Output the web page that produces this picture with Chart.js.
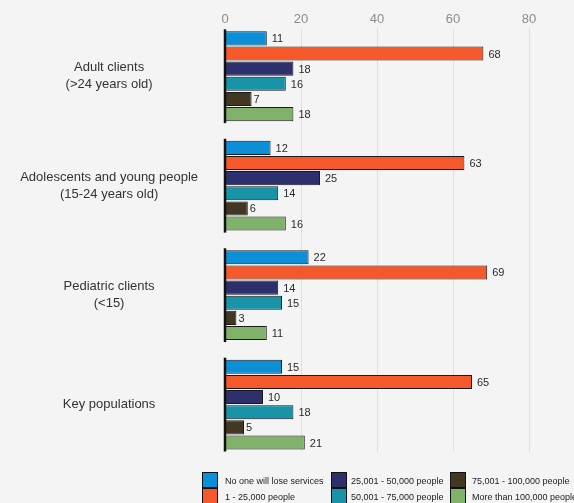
<!DOCTYPE html>
<html>
<head>
<meta charset="utf-8">
<script src="https://cdn.jsdelivr.net/npm/chart.js@4/dist/chart.umd.min.js"></script>
<style>
  html, body { margin: 0; padding: 0; background: #f4f4f4; overflow: hidden; }
  body { width: 574px; height: 503px; position: relative; font-family: "Liberation Sans", Arial, sans-serif; }
  #wrap { position: absolute; left: 0; top: 0; width: 574px; height: 462px; }
  #legend { position: absolute; left: 0; top: 0; width: 574px; height: 503px; pointer-events: none; }
  .item { position: absolute; height: 15px; display: flex; align-items: center; white-space: nowrap; font-size: 9px; color: #222; }
  .box { position: absolute; width: 14px; height: 14px; border: 1px solid #111; box-sizing: content-box; }
</style>
</head>
<body>
<div id="wrap"><canvas id="c"></canvas></div>
<div id="legend"></div>
<script>
// Population groups (y categories)
const groups = [
  ['Adult clients', '(>24 years old)'],
  ['Adolescents and young people', '(15-24 years old)'],
  ['Pediatric clients', '(<15)'],
  'Key populations'
];

// Number of people who would lose services, share of responses (%)
const seriesNames = [
  'No one will lose services',
  '1 - 25,000 people',
  '25,001 - 50,000 people',
  '50,001 - 75,000 people',
  '75,001 - 100,000 people',
  'More than 100,000 people'
];
const noOne      = [11, 12, 22, 15];
const upTo25k    = [68, 63, 69, 65];
const upTo50k    = [18, 25, 14, 10];
const upTo75k    = [16, 14, 15, 18];
const upTo100k   = [7, 6, 3, 5];
const over100k   = [18, 16, 11, 21];

const xTicks = [0, 20, 40, 60, 80];

const colors = ['#0d8fd8', '#f5582a', '#2e306e', '#1993a8', '#413723', '#80b26b'];
const seriesValues = [noOne, upTo25k, upTo50k, upTo75k, upTo100k, over100k];

// Trim of the half-category margins at the top and bottom of the y axis
const TOP_TRIM = 0.074;
const BOTTOM_TRIM = 0.040;

const datasets = seriesValues.map((vals, i) => ({
  label: seriesNames[i],
  data: vals,
  backgroundColor: colors[i],
  borderColor: '#1a1a1a',
  borderWidth: 1,
  borderSkipped: false,
  barPercentage: 0.93,
  categoryPercentage: 0.83
}));

// Extent of the bars: top of the first group to bottom of the last
function barsExtent(chart) {
  const first = chart.getDatasetMeta(0).data;
  const last = chart.getDatasetMeta(chart.data.datasets.length - 1).data;
  const top = first[0].y - first[0].height / 2;
  const lb = last[last.length - 1];
  return { top, bottom: lb.y + lb.height / 2, first, last };
}

// Vertical grid lines, spanning only the bar region
const gridLines = {
  id: 'gridLines',
  beforeDatasetsDraw(chart) {
    const ctx = chart.ctx;
    const xs = chart.scales.x;
    const ext = barsExtent(chart);
    ctx.save();
    ctx.strokeStyle = '#dedede';
    ctx.lineWidth = 1;
    xTicks.forEach(v => {
      if (v === 0) return;
      const x = Math.round(xs.getPixelForValue(v)) + 0.5;
      ctx.beginPath();
      ctx.moveTo(x, ext.top - 3);
      ctx.lineTo(x, ext.bottom + 2);
      ctx.stroke();
    });
    ctx.restore();
  }
};

// Value labels at the end of each bar
const valueLabels = {
  id: 'valueLabels',
  afterDatasetsDraw(chart) {
    const ctx = chart.ctx;
    ctx.save();
    ctx.font = '11px "Liberation Sans", Arial, sans-serif';
    ctx.fillStyle = '#2a2a2a';
    ctx.textAlign = 'left';
    ctx.textBaseline = 'middle';
    chart.data.datasets.forEach((ds, di) => {
      chart.getDatasetMeta(di).data.forEach((bar, i) => {
        const v = ds.data[i];
        const gap = v < 10 ? 2 : 5;
        ctx.fillText(String(v), bar.x + gap, bar.y + 1);
      });
    });
    ctx.restore();
  }
};

// Black baseline at zero, drawn separately for each group
const groupBaselines = {
  id: 'groupBaselines',
  afterDatasetsDraw(chart) {
    const ctx = chart.ctx;
    const x0 = chart.scales.x.getPixelForValue(0);
    const ext = barsExtent(chart);
    ctx.save();
    ctx.strokeStyle = '#111';
    ctx.lineWidth = 2.5;
    ext.first.forEach((bar, i) => {
      const top = bar.y - bar.height / 2 - 2;
      const lb = ext.last[i];
      const bottom = lb.y + lb.height / 2 + 2;
      ctx.beginPath();
      ctx.moveTo(x0, top);
      ctx.lineTo(x0, bottom);
      ctx.stroke();
    });
    ctx.restore();
  }
};

new Chart(document.getElementById('c'), {
  type: 'bar',
  data: { labels: groups, datasets },
  options: {
    indexAxis: 'y',
    responsive: true,
    maintainAspectRatio: false,
    animation: false,
    layout: { padding: { top: 10, right: 45, bottom: 7, left: 0 } },
    plugins: {
      legend: { display: false },
      tooltip: { enabled: false }
    },
    scales: {
      x: {
        position: 'top',
        min: 0,
        max: 80,
        afterBuildTicks(scale) { scale.ticks = xTicks.map(v => ({ value: v })); },
        grid: { display: false, drawTicks: false },
        border: { display: false },
        ticks: {
          padding: 2,
          color: '#8c8c8c',
          font: { family: '"Liberation Sans", Arial, sans-serif', size: 13 }
        }
      },
      y: {
        grid: { display: false },
        border: { display: false },
        afterBuildTicks(scale) {
          const n = scale.getLabels().length;
          scale._startValue = -0.5 + TOP_TRIM;
          scale._valueRange = n - TOP_TRIM - BOTTOM_TRIM;
        },
        afterFit(scale) {
          scale.width = 225;
          scale.paddingTop = 0;
          scale.paddingBottom = 0;
        },
        ticks: {
          crossAlign: 'center',
          padding: 19,
          color: '#333',
          font: { family: '"Liberation Sans", Arial, sans-serif', size: 13, lineHeight: 1.3 }
        }
      }
    }
  },
  plugins: [gridLines, valueLabels, groupBaselines]
});

// Legend: three columns, two rows
const legendPos = [
  { bx: 202, tx: 225, y: 472 },
  { bx: 202, tx: 225, y: 488 },
  { bx: 331, tx: 351, y: 472 },
  { bx: 331, tx: 351, y: 488 },
  { bx: 450, tx: 472, y: 472 },
  { bx: 450, tx: 472, y: 488 }
];
const legendEl = document.getElementById('legend');
seriesNames.forEach((name, i) => {
  const p = legendPos[i];
  const box = document.createElement('div');
  box.className = 'box';
  box.style.left = p.bx + 'px';
  box.style.top = p.y + 'px';
  box.style.background = colors[i];
  legendEl.appendChild(box);
  const t = document.createElement('div');
  t.className = 'item';
  t.style.left = p.tx + 'px';
  t.style.top = (p.y + 1) + 'px';
  t.textContent = name;
  legendEl.appendChild(t);
});
</script>
</body>
</html>
